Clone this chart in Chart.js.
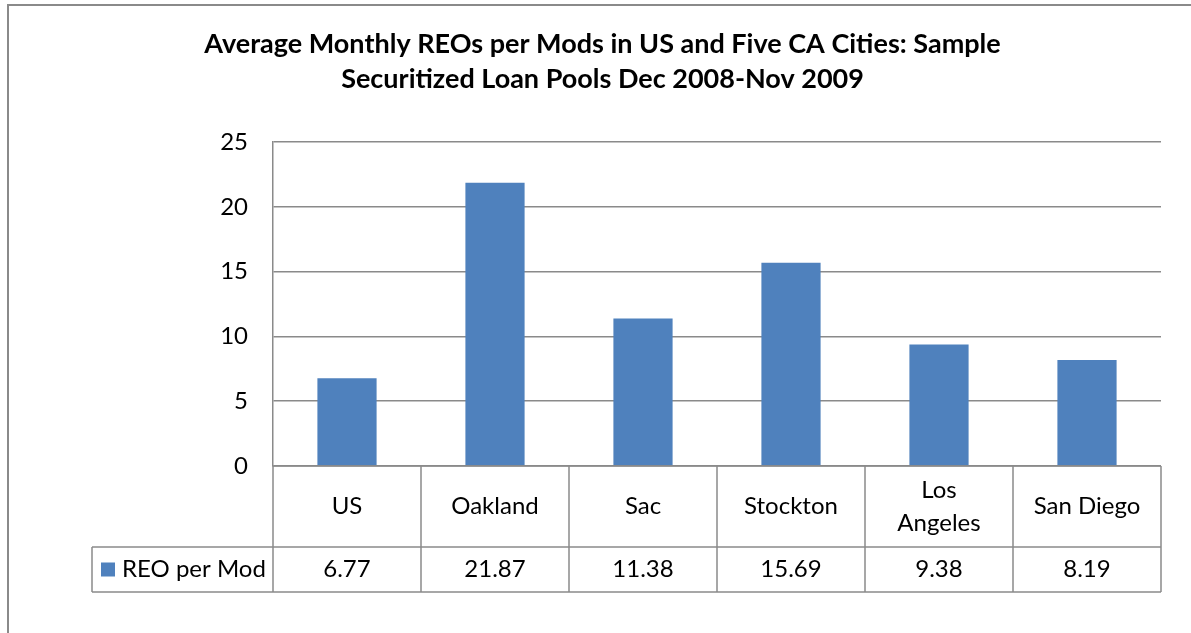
<!DOCTYPE html>
<html>
<head>
<meta charset="utf-8">
<script src="https://cdn.jsdelivr.net/npm/chart.js@4/dist/chart.umd.min.js"></script>
<style>
  html, body { margin: 0; padding: 0; background: #fff; }
  #wrap { width: 1191px; height: 633px; }
</style>
</head>
<body>
<div id="wrap"><canvas id="grafico" width="1191" height="633"></canvas></div>
<script>
// data
const cities = ["US", "Oakland", "Sac", "Stockton", ["Los", "Angeles"], "San Diego"];
const reoPerMod = [6.77, 21.87, 11.38, 15.69, 9.38, 8.19];
const seriesName = "REO per Mod";
const titleLines = [
  "Average Monthly REOs per Mods in US and Five CA Cities: Sample",
  "Securitized Loan Pools Dec 2008-Nov 2009"
];

const FONT = "Lato";
const LINE = "#8a8a8a";
const BAR = "#4F81BD";

// outer frame of the chart
const frame = {
  id: "frame",
  afterDraw(chart) {
    const ctx = chart.ctx;
    ctx.save();
    ctx.strokeStyle = LINE;
    ctx.lineWidth = 2;
    ctx.strokeRect(8, 5, 1300, 800);
    ctx.restore();
  }
};

// data table under the plot (Excel style)
const dataTable = {
  id: "dataTable",
  afterDraw(chart) {
    const ctx = chart.ctx, a = chart.chartArea, xs = chart.scales.x;
    const n = cities.length, colW = a.width / n;
    const row1 = a.bottom + 81, row2 = row1 + 45, legLeft = 92;
    const line = (x1, y1, x2, y2) => { ctx.beginPath(); ctx.moveTo(x1, y1); ctx.lineTo(x2, y2); ctx.stroke(); };

    ctx.save();
    ctx.strokeStyle = LINE;
    ctx.lineWidth = 1.5;
    line(a.left, a.bottom, a.right, a.bottom);
    line(legLeft, row1, a.right, row1);
    line(legLeft, row2, a.right, row2);
    for (let i = 0; i <= n; i++) {
      const x = a.left + i * colW;
      line(x, a.bottom, x, row2);
    }
    line(legLeft, row1, legLeft, row2);

    ctx.fillStyle = "#000";
    ctx.font = "24px " + FONT;
    ctx.textAlign = "center";
    ctx.textBaseline = "middle";
    const mid1 = (a.bottom + row1) / 2, mid2 = (row1 + row2) / 2;
    cities.forEach((c, i) => {
      const x = xs.getPixelForValue(i);
      const lines = Array.isArray(c) ? c : [c];
      lines.forEach((t, k) => {
        ctx.fillText(t, x, mid1 + (k - (lines.length - 1) / 2) * 33);
      });
      ctx.fillText(reoPerMod[i].toFixed(2), x, mid2);
    });

    // legend key
    ctx.fillStyle = BAR;
    ctx.fillRect(101, mid2 - 7, 14, 14);
    ctx.fillStyle = "#000";
    ctx.textAlign = "left";
    ctx.fillText(seriesName, 122, mid2);
    ctx.restore();
  }
};

function draw() {
  new Chart(document.getElementById("grafico"), {
    type: "bar",
    data: {
      labels: cities,
      datasets: [{
        label: seriesName,
        data: reoPerMod,
        backgroundColor: BAR,
        barPercentage: 0.4,
        categoryPercentage: 1.0
      }]
    },
    options: {
      responsive: false,
      animation: false,
      layout: { padding: { left: 44, right: 30, top: 0, bottom: 167 } },
      scales: {
        x: { display: false },
        y: {
          min: 0,
          max: 25,
          ticks: { stepSize: 5, color: "#000", font: { family: FONT, size: 24 }, padding: 25 },
          grid: { color: LINE, lineWidth: 1.5, drawTicks: false },
          border: { color: LINE, width: 1.5 },
          afterFit(s) { s.width = 229; }
        }
      },
      plugins: {
        legend: { display: false },
        tooltip: { enabled: false },
        title: {
          display: true,
          text: titleLines,
          color: "#000",
          font: { family: FONT, weight: "bold", size: 27, lineHeight: 1.3 },
          padding: { top: 27, bottom: 45 }
        }
      }
    },
    plugins: [frame, dataTable]
  });
}

document.fonts.load("24px Lato").then(draw, draw);
</script>
</body>
</html>
